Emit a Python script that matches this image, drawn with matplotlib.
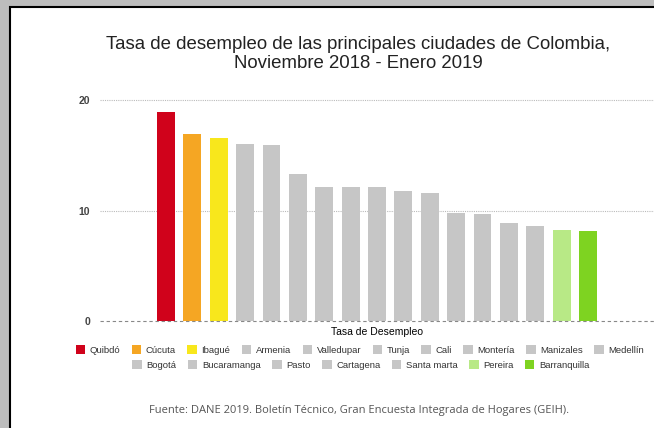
import matplotlib.pyplot as plt
from matplotlib.patches import Rectangle

ciudades = ["Quibdó", "Cúcuta", "Ibagué", "Armenia", "Valledupar", "Tunja", "Cali",
            "Montería", "Manizales", "Medellín", "Bogotá", "Bucaramanga", "Pasto",
            "Cartagena", "Santa marta", "Pereira", "Barranquilla"]
tasa = [18.9, 16.9, 16.6, 16.0, 15.9, 13.3, 12.1, 12.1, 12.1, 11.8, 11.6,
        9.8, 9.7, 8.9, 8.6, 8.2, 8.1]
gris = "#c6c6c6"
colores = ["#d0021b", "#f5a623", "#f8e71c"] + [gris] * 12 + ["#b8e986", "#7ed321"]
y_ticks = [0, 10, 20]

fig = plt.figure(figsize=(6.54, 4.28), dpi=100)
fig.patch.set_facecolor("#bdbdbd")
# white panel with black border
fig.patches.append(Rectangle((10 / 654, -0.1), 1.2, (428 - 7) / 428 + 0.1,
                             transform=fig.transFigure, facecolor="white",
                             edgecolor="black", linewidth=1.5, zorder=-5))

ax = fig.add_axes([100 / 654, 107 / 428, 554 / 654, 223.2 / 428])
ax.set_facecolor("none")
x = list(range(len(ciudades)))
bars = ax.bar(x, tasa, width=0.68, color=colores, zorder=2)
ax.set_xlim(-2.5, 18.5)
ax.set_ylim(0, 20.2)
ax.set_yticks(y_ticks)
ax.set_yticklabels([str(t) for t in y_ticks], fontsize=7.5, color="#444444",
                   fontweight="bold", family="Liberation Sans")
ax.tick_params(axis="y", length=0, pad=7)
ax.set_xticks([])
for s in ax.spines.values():
    s.set_visible(False)
for t in y_ticks[1:]:
    ax.axhline(t, color="#bbbbbb", linestyle=(0, (1, 1)), linewidth=0.8, zorder=1)
ax.axhline(0, color="#888888", linestyle=(0, (3, 2.5)), linewidth=0.8, zorder=3,
           clip_on=False)
ax.set_xlabel("Tasa de Desempleo", fontsize=7.5, family="Liberation Sans", labelpad=4)

fig.text(358 / 654, 1 - 54 / 428,
         "Tasa de desempleo de las principales ciudades de Colombia,\nNoviembre 2018 - Enero 2019",
         ha="center", va="center", fontsize=13.4, family="Liberation Sans",
         linespacing=1.18, color="#222222")

leg_kw = dict(frameon=False, handlelength=1.0, handleheight=1.0,
              handletextpad=0.5, columnspacing=1.2, borderpad=0,
              prop={"family": "Liberation Sans", "size": 6.8})
leg1 = fig.legend(bars[:10], ciudades[:10], loc="center", ncol=10,
                  bbox_to_anchor=(360 / 654, 1 - 350 / 428), **leg_kw)
leg2 = fig.legend(bars[10:], ciudades[10:], loc="center", ncol=7,
                  bbox_to_anchor=(361 / 654, 1 - 365 / 428), **leg_kw)
for leg in (leg1, leg2):
    for txt in leg.get_texts():
        txt.set_color("#333333")

fig.text(359 / 654, 1 - 410 / 428,
         "Fuente: DANE 2019. Boletín Técnico, Gran Encuesta Integrada de Hogares (GEIH).",
         ha="center", va="center", fontsize=8.0, family="Open Sans", color="#555555")

fig.savefig("out.png", dpi=100)
